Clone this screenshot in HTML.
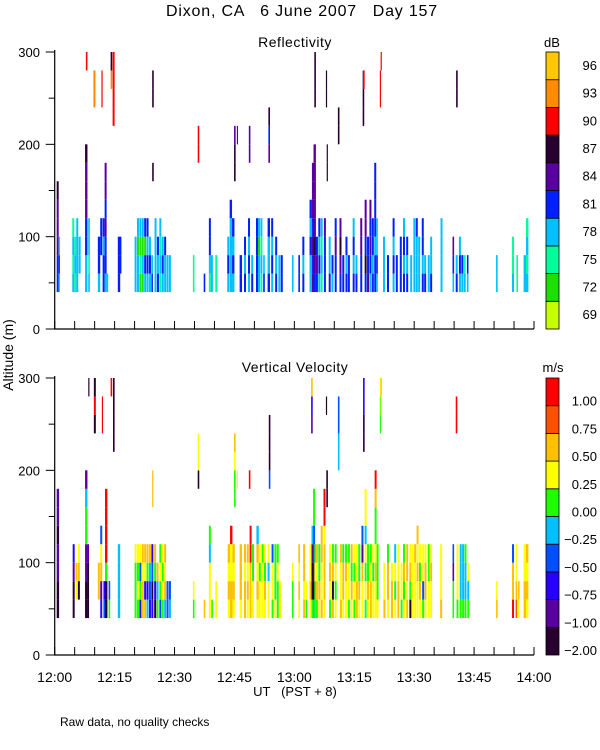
<!DOCTYPE html>
<html><head><meta charset="utf-8"><style>
body{margin:0;background:#fff;}
svg{display:block;font-family:"Liberation Sans",sans-serif;}
text{white-space:pre;}
</style></head><body>
<svg id="chart" width="600" height="750" viewBox="0 0 600 750" xmlns="http://www.w3.org/2000/svg">
<text x="302" y="16" font-size="16" letter-spacing="0.8" text-anchor="middle" xml:space="preserve">Dixon, CA   6 June 2007   Day 157</text>
<text x="295" y="47" font-size="14" letter-spacing="0.5" text-anchor="middle">Reflectivity</text>
<text x="295" y="372" font-size="14" letter-spacing="0.5" text-anchor="middle">Vertical Velocity</text>
<text x="552" y="47" font-size="13" text-anchor="middle">dB</text>
<text x="553" y="372" font-size="13" text-anchor="middle">m/s</text>
<text x="0" y="0" font-size="14" text-anchor="middle" transform="translate(13,355) rotate(-90)">Altitude (m)</text>
<text x="295" y="696" font-size="13" text-anchor="middle" xml:space="preserve">UT   (PST + 8)</text>
<text x="60" y="726" font-size="12">Raw data, no quality checks</text>
<g id="g"></g>
</svg>
<script>
const xTickLabels = ["12:00","12:15","12:30","12:45","13:00","13:15","13:30","13:45","14:00"];
const yTickLabels = ["0","100","200","300"];
const refLevels = ["69","72","75","78","81","84","87","90","93","96"];
const refColors = ["#c8ff00","#1ee000","#00ff9a","#00c0ff","#0020ff","#5a00a0","#280030","#ff0000","#ff8c00","#ffc800"];
const velLevels = ["-2.00","-1.00","-0.75","-0.50","-0.25","0.00","0.25","0.50","0.75","1.00"];
const velColors = ["#280030","#5a00a0","#2800ff","#0050ff","#00c0ff","#1eff00","#ffff00","#ffc000","#ff5000","#ff0000"];

const refT = [0.5,1.0,4.4,4.9,5.4,6.0,7.6,7.8,8.4,9.7,11.7,10.8,11.4,12.0,12.5,13.0,14.0,14.5,15.8,16.3,20.0,20.6,21.2,21.8,22.4,23.0,23.6,24.2,24.4,24.4,25.0,25.6,26.2,26.8,27.4,28.0,28.6,34.6,35.8,37.3,38.6,39.1,40.2,43.2,43.8,44.4,44.9,45.6,46.3,47.4,48.6,48.4,49.2,50.4,50.9,51.5,52.2,53.3,53.5,54.2,55.2,56.0,56.6,59.4,61.0,62.0,63.8,64.4,64.8,65.0,65.4,66.0,66.6,67.4,67.9,68.1,68.6,69.3,70.1,70.9,71.3,72.0,72.8,73.4,74.6,75.3,76.5,77.1,77.2,77.6,78.2,78.8,79.4,80.0,80.5,81.4,81.6,82.2,83.2,84.6,85.4,86.4,87.2,88.0,89.0,89.8,90.4,91.0,91.9,92.5,93.4,94.0,96.6,99.6,100.5,100.4,101.2,101.8,102.4,103.2,110.5,114.5,115.6,117.4,118.0];
const refW = [0.5,0.3,0.5,0.5,0.5,0.5,0.6,0.4,0.4,0.5,0.3,0.6,0.5,0.5,0.5,0.4,0.4,0.5,0.6,0.4,0.5,0.5,0.5,0.5,0.5,0.5,0.5,0.4,0.4,0.4,0.5,0.5,0.5,0.5,0.5,0.5,0.5,0.4,0.4,0.4,0.5,0.5,0.5,0.5,0.6,0.6,0.4,0.3,0.6,0.5,0.4,0.5,0.5,0.6,0.5,0.5,0.4,0.6,0.4,0.5,0.5,0.5,0.5,0.4,0.4,0.5,0.6,0.6,0.6,0.4,0.5,0.5,0.5,0.5,0.3,0.3,0.5,0.5,0.5,0.4,0.5,0.5,0.5,0.5,0.5,0.5,0.5,0.4,0.4,0.5,0.5,0.5,0.5,0.5,0.4,0.3,0.3,0.5,0.5,0.5,0.5,0.5,0.5,0.5,0.5,0.5,0.5,0.5,0.5,0.5,0.5,0.5,0.5,0.4,0.4,0.5,0.5,0.5,0.5,0.4,0.4,0.5,0.4,0.6,0.6];
const refB = [40,40,40,40,40,60,40,280,40,240,240,40,80,40,40,40,260,220,40,60,40,40,40,40,40,40,40,40,160,240,40,40,40,40,40,40,40,40,180,40,40,40,40,40,40,40,160,200,40,40,180,40,40,40,40,40,40,40,180,40,40,40,40,40,40,40,40,40,40,240,40,40,40,40,240,160,40,40,40,200,40,40,40,40,40,40,40,220,260,40,40,40,40,40,40,240,280,40,40,40,40,40,40,40,40,40,40,40,40,40,40,40,40,40,240,40,40,40,40,40,40,40,40,40,40];
const refC = ["445556","343","3232","232","3333","33","33445556","7","3233","88","77","344","44","4434","3445455","3","86","7777","444","44","333","3313","1213","1313","3414","3434","343","43","6","66","3333","434","2323","343","334","33","33","22","77","4","2344","33","22","343","33334","3434","665","5","44","434","55","3434","43","4444","3313","2323","43","4334","546","3434","434","33","44","33","44","434","33434","5454555","45655555","666","454","3434","2323","4445","66","66","433","34","4454","66","4565","44","434","44","4343","43","4455","666","7","46455","544","34545","4344","4434444","3433","77","7","333","44","3434","44","444","4343","434","33","3333","3334","333","4344","43","33","433","3333","345","66","43","343","34","32","34","33","322","22","33","3232"];

const velT = [0.5,4.5,5.2,5.8,7.6,8.2,8.4,9.8,10.8,11.4,12.2,12.6,11.8,14.0,14.6,13.5,15.8,20.0,20.6,21.2,21.8,22.4,23.0,23.6,24.2,24.4,24.9,25.5,26.2,26.8,27.4,28.0,28.6,34.6,35.8,37.3,38.6,39.2,40.2,43.3,43.9,44.5,44.9,45.6,46.3,47.4,48.1,48.6,48.8,49.4,50.5,51.1,51.8,52.4,53.3,53.6,54.3,55.0,55.6,56.3,59.4,61.0,62.2,62.8,63.8,64.3,64.7,65.0,64.2,65.4,66.0,66.6,67.3,67.9,68.0,68.7,69.4,70.1,70.9,71.4,72.0,72.7,73.4,74.1,74.8,75.4,76.0,76.8,77.2,77.6,78.2,78.9,79.5,80.1,80.6,81.4,81.6,82.3,83.2,84.2,85.0,85.8,86.6,87.2,88.0,88.8,89.4,90.0,90.6,91.2,92.0,92.6,93.4,94.0,96.5,99.6,100.4,100.6,101.4,102.0,102.6,103.3,110.5,114.5,115.4,116.0,117.4,118.0];
const velW = [0.6,0.5,0.5,0.5,0.6,0.4,0.3,0.5,0.5,0.5,0.5,0.6,0.3,0.4,0.4,0.4,0.6,0.5,0.5,0.5,0.5,0.5,0.5,0.5,0.5,0.3,0.5,0.5,0.5,0.5,0.5,0.5,0.5,0.4,0.4,0.4,0.5,0.4,0.5,0.6,0.6,0.6,0.4,0.3,0.6,0.5,0.5,0.4,0.5,0.5,0.6,0.5,0.5,0.5,0.5,0.4,0.5,0.5,0.5,0.5,0.4,0.4,0.5,0.4,0.5,0.5,0.5,0.4,0.4,0.5,0.5,0.5,0.5,0.3,0.4,0.5,0.5,0.5,0.4,0.5,0.5,0.5,0.5,0.5,0.5,0.5,0.5,0.5,0.4,0.5,0.5,0.5,0.5,0.5,0.5,0.3,0.3,0.5,0.5,0.5,0.5,0.5,0.5,0.5,0.5,0.5,0.5,0.5,0.5,0.5,0.5,0.5,0.5,0.5,0.5,0.4,0.4,0.5,0.5,0.5,0.5,0.5,0.4,0.5,0.4,0.4,0.6,0.6];
const velB = [40,40,60,60,40,40,280,240,60,40,40,40,240,280,220,40,40,40,40,40,40,40,40,40,40,160,40,40,40,40,40,40,40,40,180,40,40,40,40,40,40,40,160,180,40,40,40,180,40,40,40,40,40,40,40,180,40,40,40,40,40,40,40,40,40,40,40,40,240,40,40,40,40,260,160,40,40,40,200,40,40,40,40,40,40,40,40,40,220,40,40,40,40,40,40,240,260,40,40,40,40,40,40,40,40,40,40,40,40,40,40,40,40,40,40,40,240,40,40,40,40,40,40,40,40,40,40,40];
const velC = ["0011011","0012","67","076","00115541","0001","0","090","77","21763","32","0059999","99","9","0000","53","4444","5556","5656","2536","7767","7267","4257","2347","2032","77","0257","547","3565","5656","4767","33","43","56","066","7","66645","5","66","6767","77669","6767","5567","6","6777","7767","6767","9","77799","6655","67674","6656","6665","6756","6646","3000","5663","6555","5565","66","556","6767","7677","56","6766","50014","4023355","5565","127","5767","6755","76677","6777699","0","00","5676","7075","6565","4433","7667","6775","6675","5665","6757","5656","7766","6755","66713","0022","5656466","6755","7765","6656","66765579","6555","556","67","766","6775","776","6564","7766","566","6575","7677","0576","6666","6667","66767","6756","5366","6776","6655","6676","7666","5513","99","5666","5444","5444","5445","546","76","9773","8766","67","7766","6767"];

const NS="http://www.w3.org/2000/svg";
const g=document.getElementById('g');
const X0=54.7, X1=534, TMAX=120;
const xScale=t=>X0+(X1-X0)*t/TMAX;
function mk(tag,attrs,parent){const e=document.createElementNS(NS,tag);for(const k in attrs)e.setAttribute(k,attrs[k]);(parent||g).appendChild(e);return e;}

function panel(name,top,bot,T,W,B,C,colors,levels,showX){
  const yScale=a=>bot-(bot-top)*a/300;
  const pg=mk('g',{});
  
  
  for(let i=0;i<T.length;i++){
    for(let j=0;j<C[i].length;j++){
      const lv=+C[i][j];
      const a0=B[i]+20*j, a1=Math.min(300,a0+20);
      if(a0>=300) continue;
      const r=mk('rect',{x:xScale(T[i]),y:yScale(a1),width:Math.max(0.8,xScale(T[i]+W[i])-xScale(T[i])),height:yScale(a0)-yScale(a1),fill:colors[lv]},pg);
      
      
    }
  }
  const ax=mk('path',{d:`M${X0},${top-2}V${bot}H${X1}`,stroke:'#000','stroke-width':1.2,fill:'none'});
  
  
  for(let a=0;a<=300;a+=50){
    const y=yScale(a);const len=(a%100===0)?9:6;
    const t=mk('line',{x1:X0-len,x2:X0,y1:y,y2:y,stroke:'#000','stroke-width':1});
    
    
  }
  yTickLabels.forEach((lab,i)=>{
    const tx=mk('text',{x:40,y:yScale(i*100)+5,'font-size':13,'text-anchor':'end'});
    tx.textContent=lab;
    
    
  });
  for(let m=0;m<=TMAX;m+=5){
    const x=xScale(m);
    const t=mk('line',{x1:x,x2:x,y1:bot,y2:bot-8,stroke:'#000','stroke-width':1});
    
    
  }
  if(showX){
    xTickLabels.forEach((lab,i)=>{
      const tx=mk('text',{x:xScale(i*15),y:bot+27,'font-size':14,'text-anchor':'middle'});
      tx.textContent=lab;
      
      
    });
  }
  const n=colors.length, seg=(bot-top)/n;
  for(let k=0;k<n;k++){
    const y=bot-(k+1)*seg;
    const r=mk('rect',{x:546,y:y,width:13,height:seg,fill:colors[k],stroke:'#000','stroke-width':0.8});
    
    
    const tx=mk('text',{x:597,y:(name==='reflectivity'? y+seg/2+4 : bot-k*seg),'font-size':13,'text-anchor':'end'});
    tx.textContent=levels[k].replace('-','\u2212');
    
    
  }
}
panel('reflectivity',52,329,refT,refW,refB,refC,refColors,refLevels,false);
panel('velocity',378,655,velT,velW,velB,velC,velColors,velLevels,true);
</script>
</body></html>
